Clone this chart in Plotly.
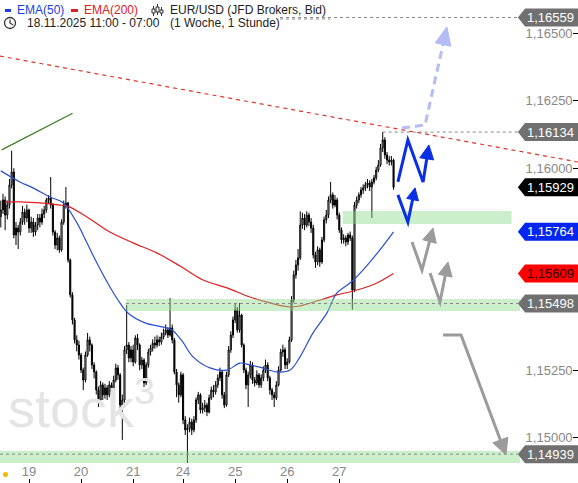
import math
import plotly.graph_objects as go

W, H = 578, 483
X0, X1 = -0.37, 266.0
Y0, Y1 = 1.14832, 1.16624

# x axis: hourly candle index, day labels at midnight
day_idx = [13, 37, 61, 84, 108, 132, 156]
day_txt = ["19", "20", "21", "24", "25", "26", "27"]
y_ticks = [1.15000, 1.15250, 1.16000, 1.16250, 1.16500]

first_open = 1.15820
close = [1.15845, 1.15882, 1.15826, 1.15863, 1.15938, 1.15986, 1.15752, 1.15778, 1.15763, 1.15800,
         1.15837, 1.15815, 1.15845, 1.15778, 1.15800, 1.15763, 1.15789, 1.15815, 1.15800, 1.15830,
         1.15845, 1.15882, 1.15889, 1.15863, 1.15763, 1.15715, 1.15741, 1.15697, 1.15800, 1.15863,
         1.15871, 1.15659, 1.15530, 1.15437, 1.15363, 1.15344, 1.15307, 1.15251, 1.15214, 1.15307,
         1.15363, 1.15344, 1.15270, 1.15244, 1.15177, 1.15140, 1.15196, 1.15159, 1.15185, 1.15159,
         1.15196, 1.15170, 1.15214, 1.15259, 1.15233, 1.15121, 1.15140, 1.15326, 1.15344, 1.15296,
         1.15326, 1.15281, 1.15370, 1.15344, 1.15270, 1.15288, 1.15203, 1.15270, 1.15318, 1.15333,
         1.15351, 1.15344, 1.15363, 1.15355, 1.15374, 1.15389, 1.15400, 1.15381, 1.15407, 1.15363,
         1.15244, 1.15196, 1.15159, 1.15233, 1.15066, 1.15029, 1.15036, 1.15058, 1.15029, 1.15066,
         1.15140, 1.15159, 1.15103, 1.15110, 1.15121, 1.15095, 1.15148, 1.15177, 1.15170, 1.15196,
         1.15222, 1.15244, 1.15159, 1.15121, 1.15233, 1.15326, 1.15381, 1.15437, 1.15474, 1.15400,
         1.15455, 1.15344, 1.15251, 1.15196, 1.15233, 1.15270, 1.15214, 1.15203, 1.15233, 1.15196,
         1.15222, 1.15251, 1.15270, 1.15222, 1.15177, 1.15159, 1.15148, 1.15196, 1.15251, 1.15318,
         1.15326, 1.15270, 1.15281, 1.15363, 1.15511, 1.15604, 1.15641, 1.15667, 1.15789, 1.15815,
         1.15789, 1.15826, 1.15800, 1.15778, 1.15678, 1.15652, 1.15697, 1.15652, 1.15734, 1.15808,
         1.15826, 1.15882, 1.15901, 1.15863, 1.15882, 1.15826, 1.15771, 1.15734, 1.15741, 1.15726,
         1.15752, 1.15741, 1.15548, 1.15863, 1.15882, 1.15901, 1.15919, 1.15927, 1.15938, 1.15945,
         1.15930, 1.15949, 1.15964, 1.15993, 1.16012, 1.16075, 1.16105, 1.16049, 1.16030, 1.16023,
         1.16030, 1.15929]
high = [1.15880, 1.15905, 1.15895, 1.15880, 1.15960, 1.16065, 1.16000, 1.15800, 1.15790, 1.15815,
        1.15860, 1.15850, 1.15865, 1.15850, 1.15820, 1.15815, 1.15800, 1.15830, 1.15830, 1.15850,
        1.15860, 1.15890, 1.15900, 1.15967, 1.15870, 1.15770, 1.15760, 1.15750, 1.15810, 1.15880,
        1.15930, 1.15875, 1.15665, 1.15540, 1.15445, 1.15380, 1.15360, 1.15315, 1.15260, 1.15320,
        1.15389, 1.15375, 1.15350, 1.15280, 1.15250, 1.15190, 1.15210, 1.15205, 1.15200, 1.15195,
        1.15210, 1.15205, 1.15230, 1.15275, 1.15270, 1.15240, 1.15160, 1.15340, 1.15493, 1.15355,
        1.15340, 1.15345, 1.15380, 1.15385, 1.15350, 1.15300, 1.15295, 1.15280, 1.15330, 1.15345,
        1.15365, 1.15375, 1.15380, 1.15375, 1.15390, 1.15405, 1.15420, 1.15410, 1.15518, 1.15420,
        1.15370, 1.15255, 1.15205, 1.15245, 1.15240, 1.15080, 1.15050, 1.15075, 1.15070, 1.15080,
        1.15150, 1.15170, 1.15165, 1.15130, 1.15140, 1.15130, 1.15160, 1.15190, 1.15195, 1.15210,
        1.15235, 1.15260, 1.15250, 1.15170, 1.15245, 1.15340, 1.15395, 1.15450, 1.15500, 1.15485,
        1.15500, 1.15460, 1.15350, 1.15260, 1.15245, 1.15285, 1.15280, 1.15225, 1.15250, 1.15240,
        1.15235, 1.15265, 1.15290, 1.15280, 1.15230, 1.15185, 1.15170, 1.15210, 1.15265, 1.15330,
        1.15345, 1.15335, 1.15295, 1.15375, 1.15525, 1.15620, 1.15660, 1.15700, 1.15840, 1.15835,
        1.15830, 1.15840, 1.15835, 1.15815, 1.15790, 1.15690, 1.15710, 1.15705, 1.15745, 1.15820,
        1.15845, 1.15895, 1.15949, 1.15910, 1.15900, 1.15890, 1.15835, 1.15780, 1.15755, 1.15750,
        1.15760, 1.15765, 1.15750, 1.15875, 1.15895, 1.15910, 1.15930, 1.15940, 1.15950, 1.15960,
        1.15955, 1.15960, 1.15975, 1.16005, 1.16030, 1.16090, 1.16134, 1.16115, 1.16060, 1.16045,
        1.16045, 1.16035]
low = [1.15780, 1.15830, 1.15770, 1.15810, 1.15850, 1.15925, 1.15740, 1.15715, 1.15700, 1.15750,
       1.15790, 1.15790, 1.15800, 1.15760, 1.15760, 1.15745, 1.15750, 1.15770, 1.15780, 1.15790,
       1.15815, 1.15835, 1.15870, 1.15850, 1.15750, 1.15700, 1.15695, 1.15686, 1.15690, 1.15790,
       1.15850, 1.15650, 1.15520, 1.15420, 1.15350, 1.15320, 1.15290, 1.15240, 1.15177, 1.15205,
       1.15300, 1.15320, 1.15255, 1.15220, 1.15160, 1.15114, 1.15130, 1.15140, 1.15145, 1.15140,
       1.15150, 1.15150, 1.15160, 1.15205, 1.15215, 1.15100, 1.14992, 1.15130, 1.15310, 1.15280,
       1.15280, 1.15265, 1.15275, 1.15325, 1.15250, 1.15255, 1.15188, 1.15195, 1.15260, 1.15305,
       1.15320, 1.15330, 1.15335, 1.15340, 1.15345, 1.15365, 1.15380, 1.15370, 1.15375, 1.15350,
       1.15235, 1.15150, 1.15130, 1.15150, 1.15050, 1.15010, 1.14906, 1.15020, 1.15010, 1.15020,
       1.15055, 1.15125, 1.15090, 1.15090, 1.15095, 1.15080, 1.15090, 1.15140, 1.15150, 1.15160,
       1.15185, 1.15210, 1.15145, 1.15110, 1.15115, 1.15225, 1.15315, 1.15370, 1.15425, 1.15390,
       1.15390, 1.15335, 1.15240, 1.15180, 1.15114, 1.15220, 1.15200, 1.15190, 1.15195, 1.15185,
       1.15185, 1.15210, 1.15240, 1.15210, 1.15160, 1.15140, 1.15114, 1.15140, 1.15190, 1.15245,
       1.15300, 1.15255, 1.15255, 1.15275, 1.15355, 1.15500, 1.15590, 1.15620, 1.15660, 1.15775,
       1.15770, 1.15780, 1.15785, 1.15760, 1.15665, 1.15630, 1.15640, 1.15634, 1.15645, 1.15725,
       1.15795, 1.15815, 1.15870, 1.15850, 1.15855, 1.15810, 1.15760, 1.15720, 1.15720, 1.15710,
       1.15715, 1.15730, 1.15475, 1.15540, 1.15850, 1.15870, 1.15890, 1.15905, 1.15915, 1.15925,
       1.15915, 1.15815, 1.15940, 1.15955, 1.15985, 1.16005, 1.16060, 1.16035, 1.16015, 1.16010,
       1.16010, 1.15920]
open_ = [first_open] + close[:-1]
idx = list(range(len(close)))

# moving averages (candle index, price)
ema50_x = [0, 8.8, 14.8, 22.7, 28.7, 35.1, 39.7, 44.3, 50.3, 54.0, 58.6, 66.5, 74.3, 78.9, 83.5,
           88.6, 96.4, 104.2, 110.2, 114.8, 119.4, 127.3, 133.3, 137.9, 143.9, 150.3, 154.9, 160.9,
           166.9, 174.7, 181]
ema50_y = [1.15990, 1.15949, 1.15927, 1.15893, 1.15872, 1.15797, 1.15723, 1.15648, 1.15559, 1.15511,
           1.15463, 1.15426, 1.15411, 1.15400, 1.15359, 1.15300, 1.15259, 1.15251, 1.15277, 1.15270,
           1.15262, 1.15244, 1.15251, 1.15300, 1.15389, 1.15463, 1.15537, 1.15574, 1.15622, 1.15697,
           1.15764]
ema200_x = [2, 8.8, 18.1, 27.3, 30.5, 39.7, 50.3, 60.9, 72.0, 82.6, 93.2, 104.2, 114.8, 124.1,
            133.3, 137.9, 147.1, 154.9, 164.2, 173.3, 181]
ema200_y = [1.15875, 1.15875, 1.15871, 1.15863, 1.15860, 1.15819, 1.15763, 1.15723, 1.15685, 1.15637,
            1.15585, 1.15556, 1.15522, 1.15500, 1.15485, 1.15489, 1.15511, 1.15530, 1.15548, 1.15574,
            1.15609]

# price tags on the right
tag_vals = [1.16559, 1.16134, 1.15929, 1.15764, 1.15609, 1.15498, 1.14939]
tag_bg = ["#707070", "#707070", "#000000", "#0026f0", "#ff0000", "#707070", "#707070"]
tag_fg = ["white", "white", "white", "white", "#2a0000", "white", "white"]
tag_line_start = [128.7, 176.0, None, None, None, 57.7, X0]

# support zones (x from, x to, price low, price high)
zones = [(157.6, 235.4, 1.15793, 1.15841),
         (57.7, 239.3, 1.15470, 1.15515),
         (X0, 239.3, 1.14906, 1.14951)]

SX = W / (X1 - X0)
SY = H / (Y1 - Y0)


def pp(x, y):
    return dict(x=x / W, y=1 - y / H)


shapes = []
annotations = []

for x0, x1, y0, y1 in zones:
    shapes.append(dict(type="rect", x0=x0, x1=x1, y0=y0, y1=y1, xref="x", yref="y",
                       fillcolor="rgba(140,220,140,0.45)", line=dict(width=0), layer="above"))

# trend lines
shapes.append(dict(type="line", x0=0.4, y0=1.16068, x1=33.1, y1=1.16204, xref="x", yref="y",
                   line=dict(color="#3f7d22", width=1.2)))
shapes.append(dict(type="line", x0=X0, y0=1.16416, x1=X1, y1=1.16023, xref="x", yref="y",
                   line=dict(color="#e0342c", width=1.2, dash="4px,4px")))

for v, s in zip(tag_vals, tag_line_start):
    if s is not None:
        shapes.append(dict(type="line", x0=s, x1=238.3, y0=v, y1=v, xref="x", yref="y",
                           line=dict(color="#888888", width=1, dash="dot"), layer="above"))


def arrow(xs, ys, color, width=3, dash=None, hl=15, hw=14):
    dx = (xs[-1] - xs[-2]) * SX
    dy = (ys[-1] - ys[-2]) * SY
    L = math.hypot(dx, dy)
    ux, uy = dx / L, dy / L
    bx = xs[-1] - ux * hl / SX
    by = ys[-1] - uy * hl / SY
    px_, py_ = -uy, ux
    pts = list(zip(xs[:-1], ys[:-1])) + [(bx, by)]
    path = "M " + " L ".join(f"{a},{b}" for a, b in pts)
    shapes.append(dict(type="path", path=path, xref="x", yref="y", layer="above",
                       line=dict(color=color, width=width, dash=dash)))
    h1 = (bx + px_ * hw / 2 / SX, by + py_ * hw / 2 / SY)
    h2 = (bx - px_ * hw / 2 / SX, by - py_ * hw / 2 / SY)
    head = f"M {xs[-1]},{ys[-1]} L {h1[0]},{h1[1]} L {h2[0]},{h2[1]} Z"
    shapes.append(dict(type="path", path=head, xref="x", yref="y", layer="above",
                       fillcolor=color, line=dict(color=color, width=1)))


arrow([184.9, 195.5, 205.6], [1.16149, 1.16160, 1.16524], "#b3bcf5", dash="8px,5px", hl=18, hw=16)
arrow([183.0, 187.6, 194.6, 197.3], [1.15949, 1.16105, 1.15949, 1.16086], "#0a2de6", hl=14, hw=14)
arrow([183.0, 187.6, 190.9], [1.15901, 1.15800, 1.15927], "#0a2de6", hl=12, hw=12)
arrow([189.5, 194.1, 199.2], [1.15726, 1.15622, 1.15778], "#9b9b9b", hl=14, hw=14)
arrow([197.8, 202.4, 206.1], [1.15611, 1.15504, 1.15652], "#9b9b9b", hl=14, hw=14)
arrow([203.8, 212.1, 232.8], [1.15381, 1.15381, 1.14936], "#9b9b9b", hl=16, hw=16)

# price tags
hh = 9 / SY
for v, bg, fg in zip(tag_vals, tag_bg, tag_fg):
    path = (f"M 238.3,{v} L 241.6,{v + hh} L {X1 + 1},{v + hh} "
            f"L {X1 + 1},{v - hh} L 241.6,{v - hh} Z")
    shapes.append(dict(type="path", path=path, xref="x", yref="y", layer="above",
                       fillcolor=bg, line=dict(width=0)))
    annotations.append(dict(x=253.5, y=v, xref="x", yref="y", text=f"{v:.5f}".replace(".", ","),
                            showarrow=False, font=dict(color=fg, size=13, family="Arial")))

# header
shapes.append(dict(type="rect", xref="paper", yref="paper", x0=5 / W, x1=11 / W,
                   y0=1 - 12 / H, y1=1 - 9 / H, fillcolor="#1a3fe0", line=dict(width=0)))
shapes.append(dict(type="rect", xref="paper", yref="paper", x0=71 / W, x1=78 / W,
                   y0=1 - 12 / H, y1=1 - 9 / H, fillcolor="#e02020", line=dict(width=0)))
for cx, t, b in [(153.5, 6, 16), (157.5, 4, 15), (161.5, 7, 16)]:
    shapes.append(dict(type="line", xref="paper", yref="paper", x0=cx / W, x1=cx / W,
                       y0=1 - t / H, y1=1 - b / H, line=dict(color="#333", width=1)))
    shapes.append(dict(type="rect", xref="paper", yref="paper", x0=(cx - 1.5) / W, x1=(cx + 1.5) / W,
                       y0=1 - (t + 3) / H, y1=1 - (b - 3) / H, fillcolor="white",
                       line=dict(color="#333", width=1)))
shapes.append(dict(type="circle", xref="paper", yref="paper", x0=4.5 / W, x1=15.5 / W,
                   y0=1 - 28.5 / H, y1=1 - 17.5 / H, line=dict(color="#333", width=1.3)))
shapes.append(dict(type="path", xref="paper", yref="paper",
                   path=f"M {10 / W},{1 - 19.5 / H} L {10 / W},{1 - 23 / H} L {13 / W},{1 - 25 / H}",
                   line=dict(color="#333", width=1.2)))
shapes.append(dict(type="line", xref="paper", yref="paper", x0=280 / W, x1=330 / W,
                   y0=1 - 19 / H, y1=1 - 19 / H, line=dict(color="#888", width=1, dash="dot")))
shapes.append(dict(type="circle", xref="paper", yref="paper", x0=3 / W, x1=8 / W,
                   y0=1 - 477 / H, y1=1 - 472 / H, fillcolor="#f5b800", line=dict(width=0)))

hdr = [(15, 10, "EMA(50)", "#1a3fe0"), (82, 10, "EMA(200)", "#e02020"),
       (168, 10, "EUR/USD (JFD Brokers, Bid)", "#222"),
       (25, 23, "18.11.2025 11:00 - 07:00", "#222"), (168, 23, "(1 Woche, 1 Stunde)", "#222")]
for x, y, t, c in hdr:
    annotations.append(dict(**pp(x, y), xref="paper", yref="paper", text=t, showarrow=False,
                            xanchor="left", yanchor="middle", font=dict(size=12, color=c, family="Arial")))

fig = go.Figure()
# watermark below the candles
fig.add_trace(go.Scatter(x=[3.3], y=[1.15090], mode="text", text=["stock<sup>3</sup>"],
                         textposition="middle right",
                         textfont=dict(size=54, color="#e4e4e4", family="Arial"), hoverinfo="skip"))
fig.add_trace(go.Scatter(x=ema200_x, y=ema200_y, mode="lines", line=dict(color="#e02020", width=1.2, shape="spline")))
fig.add_trace(go.Scatter(x=ema50_x, y=ema50_y, mode="lines", line=dict(color="#2a4fd0", width=1.2, shape="spline")))
fig.add_trace(go.Candlestick(x=idx, open=open_, high=high, low=low, close=close,
                             increasing=dict(line=dict(color="black", width=1), fillcolor="white"),
                             decreasing=dict(line=dict(color="black", width=1), fillcolor="black"),
                             whiskerwidth=0, hoverinfo="skip"))

fig.update_layout(
    width=W, height=H, margin=dict(l=0, r=0, t=0, b=0),
    paper_bgcolor="white", plot_bgcolor="white", showlegend=False,
    separators=",.", font=dict(family="Arial"),
    shapes=shapes, annotations=annotations,
)
fig.update_xaxes(range=[X0, X1], tickvals=day_idx, ticktext=day_txt, ticks="inside", ticklen=4,
                 tickcolor="#000", ticklabelposition="inside", showgrid=False, zeroline=False,
                 showline=False, tickfont=dict(size=13, color="#888"), rangeslider=dict(visible=False))
fig.update_yaxes(range=[Y0, Y1], side="right", tickvals=y_ticks, tickformat=".5f", ticks="inside",
                 ticklen=5, tickcolor="#000", ticklabelposition="inside", showgrid=False,
                 zeroline=False, showline=False, tickfont=dict(size=13, color="#888"))

# page body has a default margin; drop it so the figure sits at the window corner
fig.write_html("out.html", config={"displayModeBar": False},
               post_script="document.body.style.margin='0';")
